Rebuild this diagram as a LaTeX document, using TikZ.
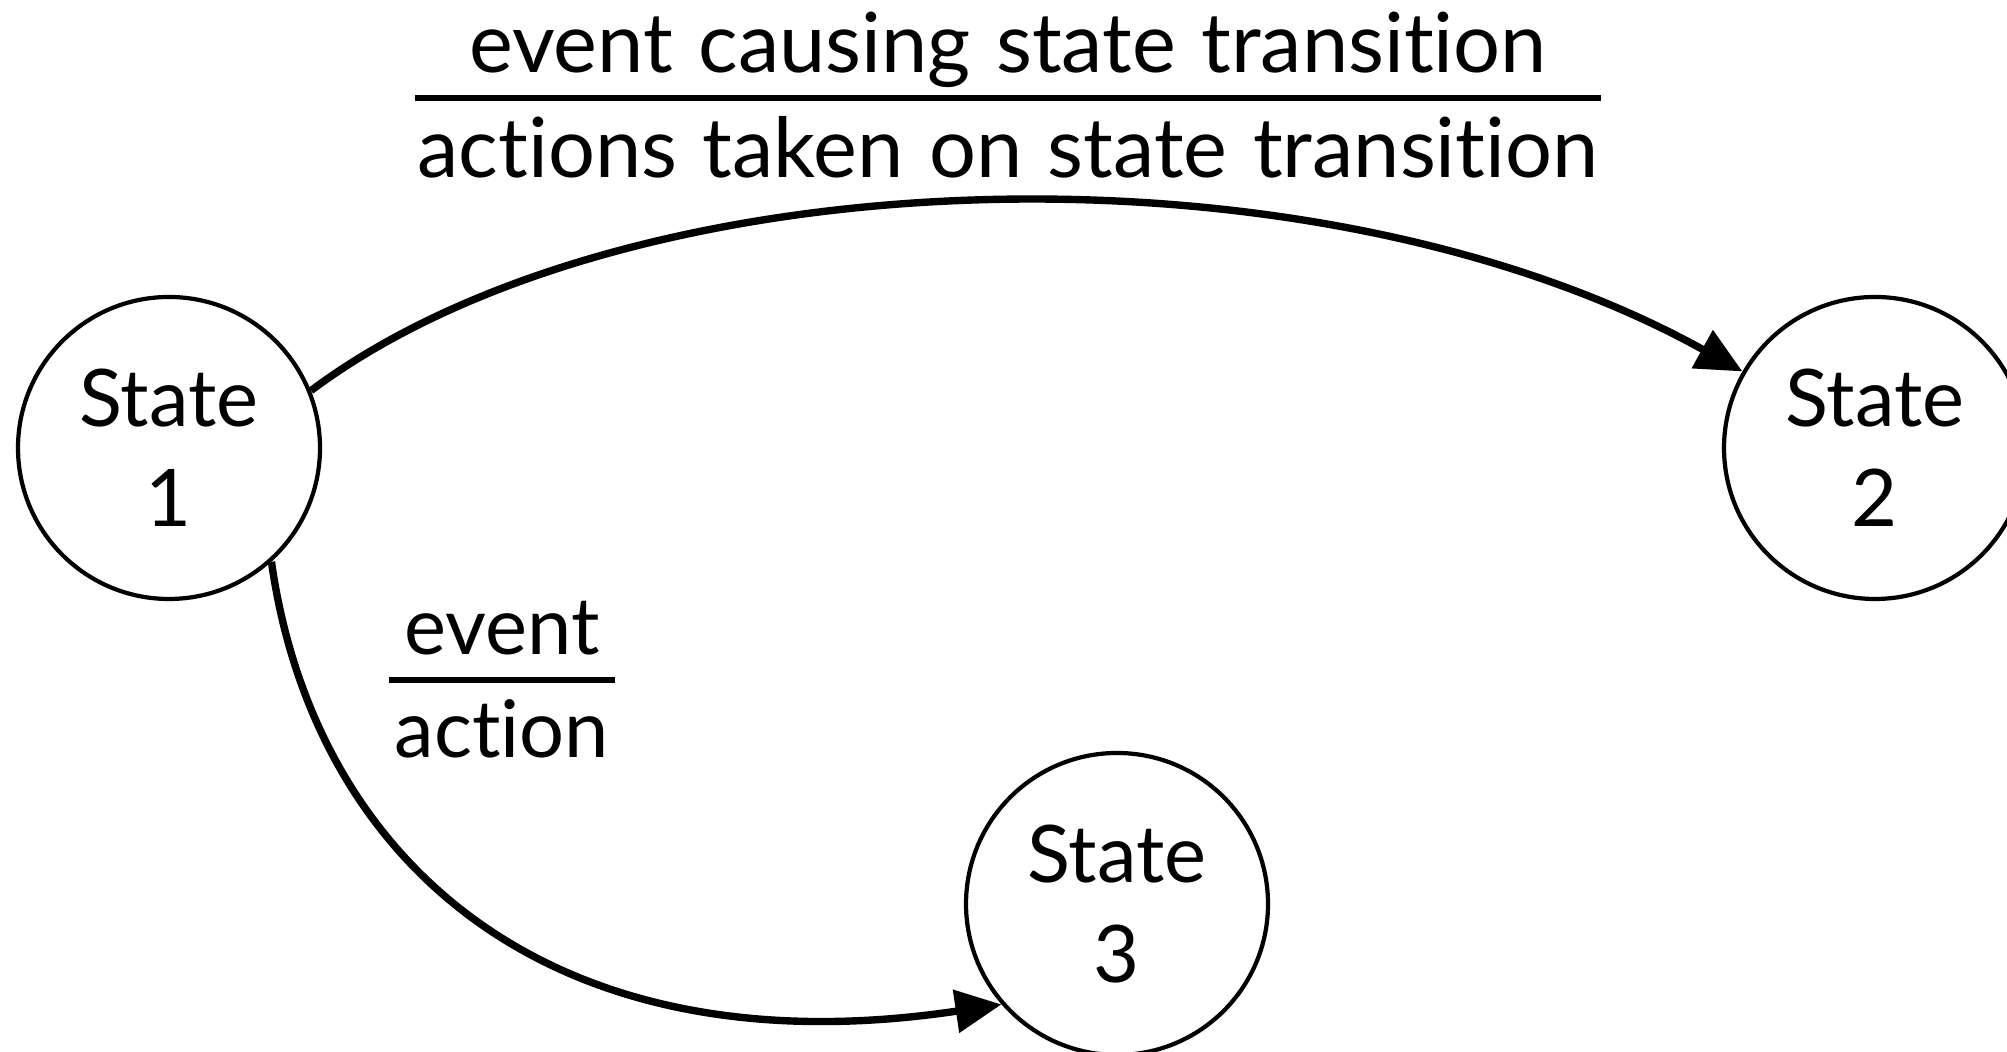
\documentclass[tikz,border=0pt]{standalone}
\usepackage{fontspec}
\setmainfont{Lato}[Ligatures=NoCommon,WordSpace=1.2]
\usetikzlibrary{
  arrows.meta % for the Triangle arrow tip
}
\tikzset{
  state/.style={ % style for each state
    circle,draw,line width=1.2pt, % drawn as a plain circle
    inner sep=0pt, % no padding between the text and the circle
    minimum size=3.02cm, % every state has the same size
    align=center, % two centred lines of text
    font=\fontsize{22.6}{28.5}\selectfont,
  },
  lbl/.style={ % style for the event and action texts
    inner sep=0pt,
    font=\fontsize{22.6}{28.5}\selectfont,
  },
  toplbl/.style={ % the long texts above are set a little wider
    lbl,
    font=\fontsize{23.6}{28.5}\selectfont,
  },
  bar/.style={ % style for the bar between event and action
    line width=1.7pt,
  },
  trans/.style={ % style for the transitions
    -{Triangle[length=0.46cm,width=0.42cm]}, % filled triangle tip
    line width=2.1pt, % thicker than the states
  },
}
\begin{document}
\begin{tikzpicture}
  \useasboundingbox (0,0) rectangle (20.07,10.52);
  \node[state] (s1) at (1.69,6.04) {State\\1};
  \node[state] (s2) at (18.75,6.04) {State\\2};
  \node[state] (s3) at (11.17,1.48) {State\\3};
  % upper transition and its text
  \node[toplbl, anchor=base] (evt) at (10.08,9.79) {event causing state transition};
  \node[toplbl, anchor=base] (act) at (10.08,8.74) {actions taken on state transition};
  \draw[bar] ([shift={(-0.02,0.80)}]act.base west) -- ([shift={(0.02,0.80)}]act.base east);
  \draw[trans] (s1.22) .. controls +(3.15,2.36) and +(-4.33,2.4) .. (s2.150);
  % lower transition and its text
  \node[lbl, anchor=base] (evs) at (5.02,3.97) {event};
  \node[lbl, anchor=base] (acs) at (5.02,2.94) {action};
  \draw[bar] ([shift={(-0.05,0.78)}]acs.base west) -- ([shift={(0.05,0.78)}]acs.base east);
  \draw[trans] (s1.-48) .. controls +(0.42,-2.97) and +(-4.55,-0.68) .. (s3.221);
\end{tikzpicture}
\end{document}
